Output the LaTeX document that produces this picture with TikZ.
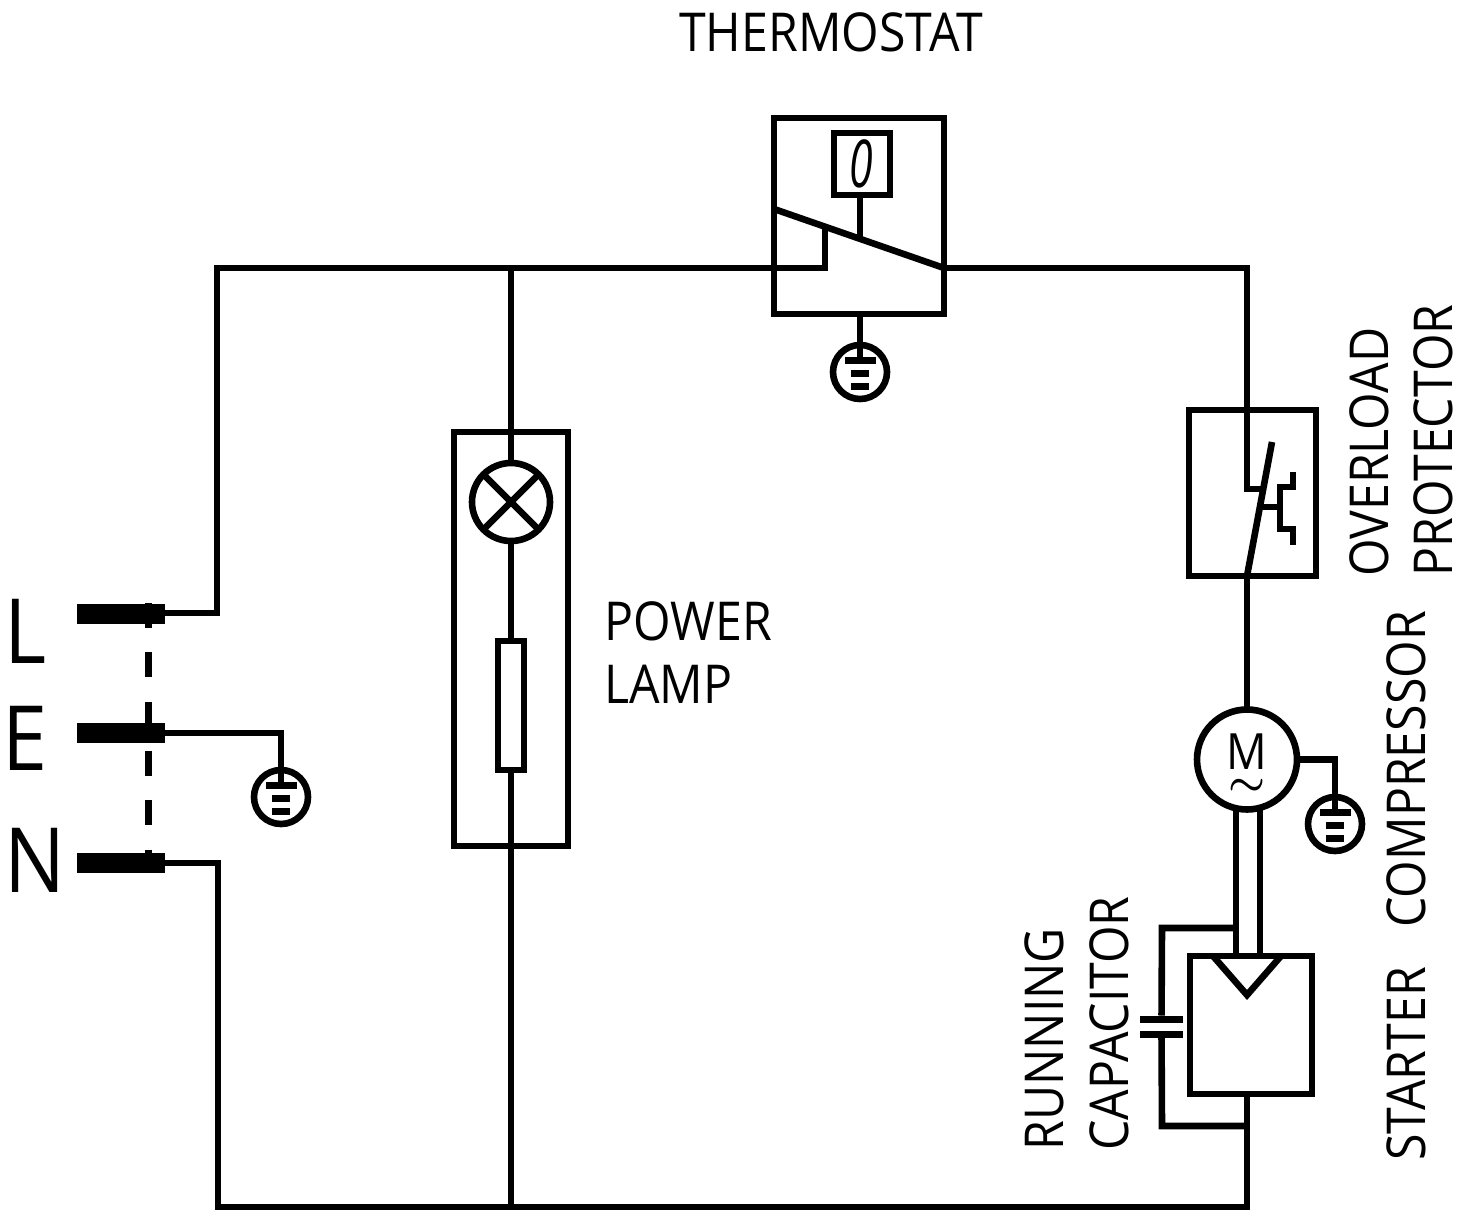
\documentclass[tikz,border=0pt]{standalone}
\usepackage{fontspec}
\setmainfont[FakeStretch=0.9]{Open Sans}
\tikzset{
  wire/.style={line width=3.3pt},
  part box/.style={
    draw,
    line width=3.3pt,
    inner sep=0pt,
    outer sep=0pt,
  },
  round box/.style={part box, circle},
  bar/.style={fill=black, inner sep=0pt, outer sep=0pt},
  terminal/.style={bar, minimum width=44pt, minimum height=10pt},
  lbl/.style={inner sep=0pt, font=\fontsize{26.8}{30}\selectfont},
  lbl up/.style={lbl, rotate=90, anchor=base west},
  pin lbl/.style={inner sep=0pt, anchor=base west, font=\fontsize{45}{48}\selectfont},
  ground/.pic={
    \node[round box, minimum size=27pt] (-ring) at (0,0) {};
    \node[bar, minimum width=15.5pt, minimum height=3.5pt] (-a) at (0,-12) {};
    \node[bar, minimum width=9pt, minimum height=3.5pt] (-b) at (0,1) {};
    \node[bar, minimum width=9pt, minimum height=3.5pt] (-c) at (0,14) {};
  },
}

\begin{document}
\begin{tikzpicture}[x=0.5pt, y=-0.5pt]
      \useasboundingbox (0,0) rectangle (1471,1209);

      % mains side
      \coordinate (dashtop) at (148,603);
      \coordinate (dashbot) at (148,873);
      \draw[line width=3.5pt, dash pattern=on 12.5pt off 12.15pt] (dashtop) -- (dashbot);
      \node[terminal] (termL) at (121,614) {};
      \node[terminal] (termE) at (121,733) {};
      \node[terminal] (termN) at (121,863) {};
      \node[pin lbl] (pinL) at (4,663) {L};
      \node[pin lbl] (pinE) at (2,770) {E};
      \node[pin lbl] (pinN) at (4,892) {N};

      % thermostat
      \node[part box, minimum width=85pt, minimum height=98pt] (thermo) at (859,216) {};
      \node[part box, minimum width=28pt, minimum height=31pt] (dial) at (862,164) {};
      \node[inner sep=0pt, xscale=0.72, font=\fontsize{33}{36}\selectfont\itshape] (dialzero) at (861,164) {0};
      \coordinate (levl) at (774,209);
      \coordinate (levr) at (944,268);
      \coordinate (levm) at (860,238);
      \coordinate (cont) at (825,227);
      \draw[wire] (levl) -- (levr);
      \draw[wire] (dial.south -| levm) -- (levm);
      \pic (gndT) at (860,372) {ground};
      \draw[wire] (thermo.south -| gndT-a) -- (gndT-a);

      % top and bottom rails
      \coordinate (topl) at (217,268);
      \coordinate (topm) at (511,268);
      \coordinate (topc) at (825,268);
      \coordinate (topr) at (1247,268);
      \coordinate (botl) at (218,1207);
      \coordinate (botm) at (511,1207);
      \coordinate (botr) at (1247,1207);
      \coordinate (ovin) at (1247,489);
      \coordinate (ovcon) at (1263,489);
      \draw[wire] (termL.east |- 0,613) -| (topl) -- (topc) -- (cont);
      \draw[wire] (levr) -- (topr) -- (ovin) -- (ovcon);
      \draw[wire] (termN.east) -| (botl) -- (botr) -- (1247,1094);

      % earth of the plug
      \pic (gndE) at (281,797) {ground};
      \draw[wire] (termE.east) -| (gndE-a);

      % power lamp
      \node[part box, minimum width=57pt, minimum height=207pt] (lampbox) at (511,639) {};
      \node[round box, minimum size=39pt] (lamp) at (511,502) {};
      \node[part box, minimum width=13pt, minimum height=64.5pt] (res) at (511,705.5) {};
      \draw[wire] (lamp.north west) -- (lamp.south east);
      \draw[wire] (lamp.north east) -- (lamp.south west);
      \draw[wire] (topm) -- (lamp.north);
      \draw[wire] (lamp.south) -- (res.north);
      \draw[wire] (res.south) -- (botm);

      % overload protector
      \node[part box, minimum width=63.5pt, minimum height=83pt] (over) at (1252.5,493) {};
      \coordinate (ovtop) at (1272,442);
      \coordinate (ovbot) at (1247,576);
      \coordinate (ovmid) at (1263,507);
      \coordinate (ovbi) at (1280,507);
      \draw[wire] (ovtop) -- (ovbot);
      \draw[wire] (ovmid) -- (ovbi);
      \draw[wire] (1293,472) |- (1280,487) -- (1280,529) -| (1293,545);

      % compressor
      \node[round box, minimum size=50pt] (motor) at (1247,759.5) {};
      \node[inner sep=0pt, font=\fontsize{25}{26}\selectfont] (motorm) at (1247,752) {M};
      \node[inner sep=0pt, font=\fontsize{21}{22}\selectfont\boldmath] (motort) at (1247,787) {$\sim$};
      \draw[wire] (ovbot) -- (motor.north);
      \pic (gndM) at (1335,824) {ground};
      \draw[wire] (motor.east) -| (gndM-a);

      % starter and capacitor
      \node[part box, minimum width=61pt, minimum height=69pt] (starter) at (1251,1025) {};
      \coordinate (mainl) at (1236,808);
      \coordinate (mainr) at (1260,808);
      \coordinate (startl) at (1236,956);
      \coordinate (startr) at (1260,956);
      \draw[wire] (mainl) -- (startl);
      \draw[wire] (mainr) -- (startr);
      \draw[wire] (1213,956) -- (1247,995) -- (1281,956);
      \node[bar, minimum width=21.5pt, minimum height=3.5pt] (capa) at (1161.5,1019) {};
      \node[bar, minimum width=21.5pt, minimum height=3.5pt] (capb) at (1161.5,1034) {};
      \coordinate (loopt) at (1162,928);
      \coordinate (loopb) at (1162,1126);
      \draw[wire] (1236,928) -- (loopt) -- (capa);
      \draw[wire] (capb) -- (loopb) -- (1247,1126);

      % labels
      \node[lbl] (lblthermo) at (831,32) {THERMOSTAT};
      \node[lbl, anchor=base west] (lblpower) at (604,640) {POWER};
      \node[lbl, anchor=base west] (lbllamp) at (604,703) {LAMP};
      \node[lbl up] (lblover) at (1388,577) {OVERLOAD};
      \node[lbl up] (lblprot) at (1452,577) {PROTECTOR};
      \node[lbl up] (lblcomp) at (1425,928) {COMPRESSOR};
      \node[lbl up] (lblstart) at (1425,1161) {STARTER};
      \node[lbl up] (lblrun) at (1063,1151) {RUNNING};
      \node[lbl up] (lblcap) at (1128,1151) {CAPACITOR};
\end{tikzpicture}
\end{document}
